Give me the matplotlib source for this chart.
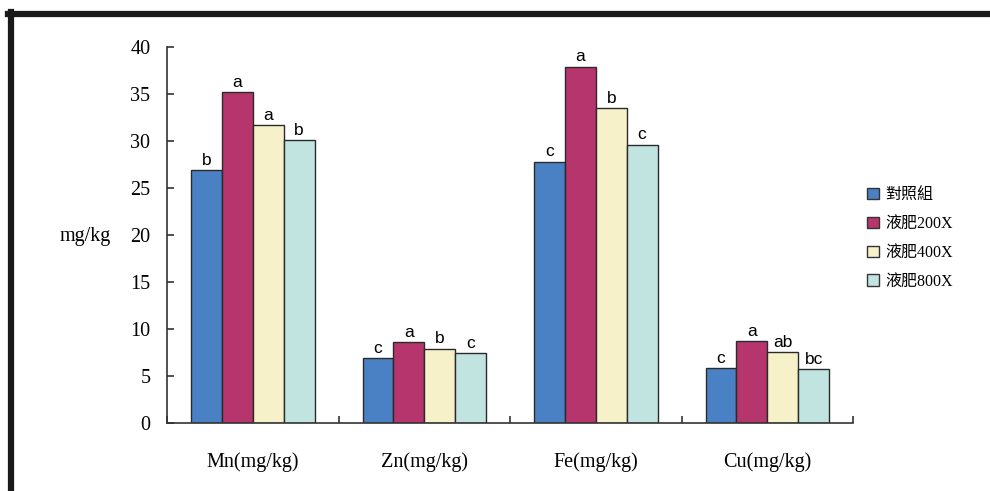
import numpy as np
import matplotlib.pyplot as plt
from matplotlib.lines import Line2D

plt.rcParams['font.family'] = ['Liberation Serif', 'Noto Sans CJK TC', 'DejaVu Sans']

categories = ["Mn(mg/kg)", "Zn(mg/kg)", "Fe(mg/kg)", "Cu(mg/kg)"]
series = ["對照組", "液肥200X", "液肥400X", "液肥800X"]
values = [
    [26.9, 6.9, 27.8, 5.85],
    [35.2, 8.6, 37.9, 8.7],
    [31.7, 7.9, 33.5, 7.55],
    [30.1, 7.4, 29.6, 5.75],
]
letters = [
    ["b", "c", "c", "c"],
    ["a", "a", "a", "a"],
    ["a", "b", "b", "ab"],
    ["b", "c", "c", "bc"],
]
colors = ["#4a80c4", "#b6356c", "#f6f1c9", "#c1e4e1"]

fig = plt.figure(figsize=(9.9, 4.91), dpi=100)
ax = fig.add_axes([0.1687, 0.1385, 0.693, 0.7658])

x = np.arange(len(categories))
w = 0.18
for i, name in enumerate(series):
    pos = x + (i - 1.5) * w
    ax.bar(pos, values[i], w, color=colors[i], edgecolor="#2a2a2a", linewidth=1.0, label=name)
    for p, v, t in zip(pos, values[i], letters[i]):
        ax.text(p, v + 0.25, t, ha="center", va="bottom", fontsize=12.5,
                family=["Liberation Sans", "DejaVu Sans"])

ax.set_xlim(-0.5, len(categories) - 0.5)
ax.set_ylim(0, 40)
ax.set_yticks(np.arange(0, 41, 5))
ax.set_xticks(np.arange(len(categories) + 1) - 0.5, minor=True)
ax.set_xticks(x)
ax.set_xticklabels(categories, fontsize=14.5)
ax.tick_params(axis="x", which="major", length=0, pad=21)
ax.tick_params(axis="x", which="minor", direction="in", length=5, width=1.2, color="#333333")
ax.tick_params(axis="y", direction="in", length=5, width=1.2, color="#333333", labelsize=14.5, pad=12)
for s in ["top", "right"]:
    ax.spines[s].set_visible(False)
for s in ["left", "bottom"]:
    ax.spines[s].set_color("#333333")
    ax.spines[s].set_linewidth(1.2)

fig.text(0.086, 0.518, "mg/kg", ha="center", va="center", fontsize=14.5)

leg = ax.legend(loc="upper left", bbox_to_anchor=(1.0, 0.665), frameon=False, fontsize=11.5,
                handlelength=0.7, handleheight=0.7, handletextpad=0.4, labelspacing=0.8)
for h in leg.legend_handles:
    h.set_edgecolor("#333333")

fig.add_artist(Line2D([0.008, 1.0], [0.972, 0.972], transform=fig.transFigure, color="#1a1a1a", linewidth=4.5))
fig.add_artist(Line2D([0.011, 0.011], [0.0, 0.975], transform=fig.transFigure, color="#1a1a1a", linewidth=4.5))

fig.savefig("out.png", dpi=100)
